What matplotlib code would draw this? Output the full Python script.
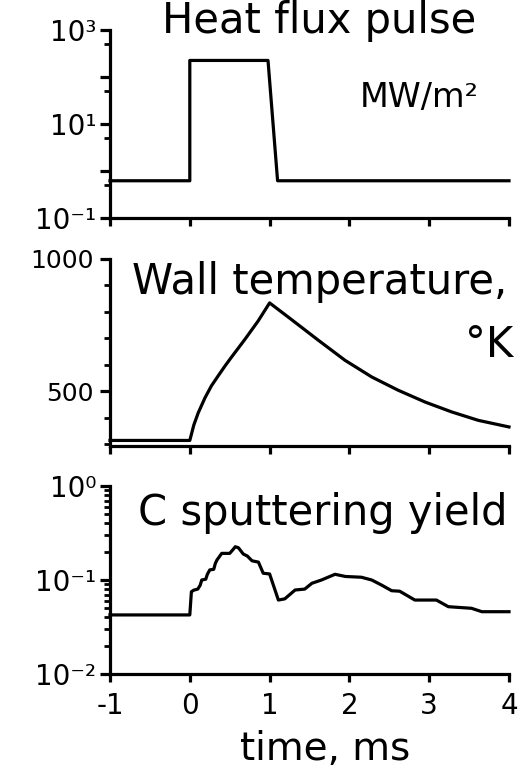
"""
Heat flux pulse / wall temperature / C sputtering yield vs time.
Three stacked panels sharing the time axis (ms).
"""

import matplotlib
matplotlib.use("Agg")
import matplotlib.pyplot as plt
from matplotlib.ticker import FixedLocator, FixedFormatter, NullFormatter

# --- 1. Data ---
# heat flux pulse, MW/m2
T_FLUX = [-1.0, 0.0, 0.0, 0.98, 1.10, 4.0]
Q_FLUX = [0.62, 0.62, 225.0, 225.0, 0.62, 0.62]

# wall temperature, K
T_WALL = [-1.0, 0.0, 0.05, 0.105, 0.19, 0.27, 0.355, 0.44, 0.52, 0.69, 0.855,
          1.0, 1.27, 1.61, 1.945, 2.28, 2.61, 2.95, 3.28, 3.615, 4.0]
TEMP_WALL = [314, 314, 372, 418, 475, 520, 558, 595, 628, 696, 765,
             834, 772, 693, 617, 554, 504, 459, 422, 390, 365]

# C sputtering yield
T_YIELD = [-1.0, 0.0, 0.02, 0.05, 0.10, 0.13, 0.15, 0.20, 0.22, 0.25, 0.30,
           0.32, 0.34, 0.40, 0.50, 0.54, 0.57, 0.61, 0.67, 0.72, 0.78, 0.86,
           0.92, 1.00, 1.11, 1.19, 1.32, 1.44, 1.53, 1.65, 1.82, 1.95, 2.15,
           2.28, 2.40, 2.53, 2.63, 2.82, 3.09, 3.24, 3.53, 3.66, 4.0]
Y_YIELD = [0.0425, 0.0425, 0.075, 0.078, 0.080, 0.088, 0.100, 0.102, 0.115,
           0.128, 0.130, 0.150, 0.163, 0.192, 0.192, 0.210, 0.226, 0.220,
           0.189, 0.180, 0.160, 0.155, 0.118, 0.116, 0.0612, 0.063, 0.0783,
           0.080, 0.0923, 0.100, 0.115, 0.109, 0.107, 0.100, 0.0886, 0.0769,
           0.076, 0.0612, 0.0612, 0.052, 0.050, 0.046, 0.046]

# --- 2. Ticks ---
X_TICKS = [-1, 0, 1, 2, 3, 4]
X_LABELS = ["-1", "0", "1", "2", "3", "4"]
FLUX_MAJOR = [1e-1, 1e0, 1e1, 1e2, 1e3]
FLUX_LABELS = ["10\u207b\u00b9", "", "10\u00b9", "", "10\u00b3"]
FLUX_MINOR = [0.5, 5, 50, 500]
TEMP_MAJOR = [500, 1000]
TEMP_MINOR = [300, 400, 600, 700, 800, 900]
YIELD_MAJOR = [1e-2, 1e-1, 1e0]
YIELD_LABELS = ["10\u207b\u00b2", "10\u207b\u00b9", "10\u2070"]
YIELD_MINOR = [k * 10.0**e for e in (-2, -1) for k in range(2, 10)]

plt.rcParams.update({
    "font.family": "DejaVu Sans",
    "axes.linewidth": 2.3,
    "xtick.major.width": 2.3, "ytick.major.width": 2.3,
    "xtick.minor.width": 2.0, "ytick.minor.width": 2.0,
    "xtick.direction": "out", "ytick.direction": "out",
})

W, H = 525, 770
fig = plt.figure(figsize=(W / 100, H / 100), dpi=100)


def panel(y_top, y_bot):
    """axes from pixel rows (top, bottom) of the target picture"""
    return fig.add_axes([110 / W, 1 - y_bot / H, 399 / W, (y_bot - y_top) / H])


ax1 = panel(30, 218)
ax2 = panel(259, 446)
ax3 = panel(486, 674)

ax1.plot(T_FLUX, Q_FLUX, color="black", lw=2.3)
ax2.plot(T_WALL, TEMP_WALL, color="black", lw=2.3)
ax3.plot(T_YIELD, Y_YIELD, color="black", lw=2.3)

for ax in (ax1, ax2, ax3):
    ax.set_xlim(-1, 4)
    for s in ("top", "right"):
        ax.spines[s].set_visible(False)
    ax.xaxis.set_major_locator(FixedLocator(X_TICKS))
    ax.tick_params(axis="x", which="major", length=6, pad=7, labelsize=20)
    ax.tick_params(axis="y", which="major", length=7, pad=3)
    ax.tick_params(axis="y", which="minor", length=4)
    if ax is ax3:
        ax.xaxis.set_major_formatter(FixedFormatter(X_LABELS))
    else:
        ax.xaxis.set_major_formatter(NullFormatter())

# heat flux
ax1.set_yscale("log")
ax1.set_ylim(1e-1, 1e3)
ax1.yaxis.set_major_locator(FixedLocator(FLUX_MAJOR))
ax1.yaxis.set_major_formatter(FixedFormatter(FLUX_LABELS))
ax1.yaxis.set_minor_locator(FixedLocator(FLUX_MINOR))
ax1.yaxis.set_minor_formatter(NullFormatter())
ax1.tick_params(axis="y", labelsize=20)
ax1.text(0.525, 0.984, "Heat flux pulse", transform=ax1.transAxes,
         ha="center", va="baseline", fontsize=30)
ax1.text(0.774, 0.59, "MW/m\u00b2", transform=ax1.transAxes,
         ha="center", va="baseline", fontsize=24)

# wall temperature
ax2.set_ylim(293, 1000)
ax2.yaxis.set_major_locator(FixedLocator(TEMP_MAJOR))
ax2.yaxis.set_minor_locator(FixedLocator(TEMP_MINOR))
ax2.tick_params(axis="y", labelsize=18, pad=5)
ax2.text(0.525, 0.815, "Wall temperature,", transform=ax2.transAxes,
         ha="center", va="baseline", fontsize=30)
ax2.text(1.01, 0.476, "\u00b0K", transform=ax2.transAxes,
         ha="right", va="baseline", fontsize=30)

# sputtering yield
ax3.set_yscale("log")
ax3.set_ylim(1e-2, 1e0)
ax3.yaxis.set_major_locator(FixedLocator(YIELD_MAJOR))
ax3.yaxis.set_major_formatter(FixedFormatter(YIELD_LABELS))
ax3.yaxis.set_minor_locator(FixedLocator(YIELD_MINOR))
ax3.yaxis.set_minor_formatter(NullFormatter())
ax3.tick_params(axis="y", labelsize=20)
ax3.text(0.532, 0.79, "C sputtering yield", transform=ax3.transAxes,
         ha="center", va="baseline", fontsize=30)
ax3.set_xlabel("time, ms", fontsize=28)
ax3.xaxis.label.set_va("baseline")
ax3.xaxis.set_label_coords(0.54, -0.457)

for ax in (ax1, ax2, ax3):
    for line in ax.get_lines():
        line.set_clip_on(False)

fig.savefig("out.png", dpi=100)
